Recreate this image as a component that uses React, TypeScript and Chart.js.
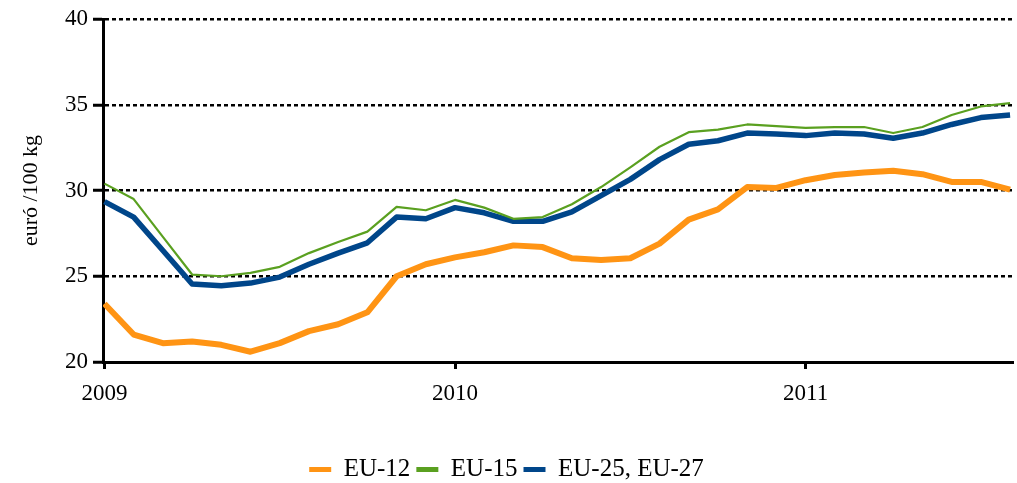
import React, { useEffect, useRef } from "react";
import { Chart, registerables } from "chart.js";

Chart.register(...registerables);

const months = [
  "2009-01", "2009-02", "2009-03", "2009-04", "2009-05", "2009-06", "2009-07", "2009-08",
  "2009-09", "2009-10", "2009-11", "2009-12", "2010-01", "2010-02", "2010-03", "2010-04",
  "2010-05", "2010-06", "2010-07", "2010-08", "2010-09", "2010-10", "2010-11", "2010-12",
  "2011-01", "2011-02", "2011-03", "2011-04", "2011-05", "2011-06", "2011-07", "2011-08",
];

const eu12 = [
  23.4, 21.6, 21.1, 21.2, 21.0, 20.6, 21.1, 21.8, 22.2, 22.9, 25.0, 25.7,
  26.1, 26.4, 26.8, 26.7, 26.05, 25.95, 26.05, 26.9, 28.3, 28.9, 30.2, 30.15,
  30.6, 30.9, 31.05, 31.15, 30.95, 30.5, 30.5, 30.05,
];

const eu15 = [
  30.4, 29.5, 27.3, 25.1, 25.0, 25.2, 25.55, 26.35, 27.0, 27.6, 29.05, 28.85,
  29.45, 29.0, 28.35, 28.45, 29.2, 30.2, 31.35, 32.55, 33.4, 33.55, 33.85, 33.75,
  33.65, 33.7, 33.7, 33.35, 33.7, 34.4, 34.9, 35.1,
];

const eu25 = [
  29.35, 28.45, 26.5, 24.55, 24.45, 24.6, 24.95, 25.7, 26.35, 26.95, 28.45, 28.35,
  29.0, 28.7, 28.2, 28.2, 28.75, 29.7, 30.65, 31.8, 32.7, 32.9, 33.35, 33.3,
  33.2, 33.35, 33.3, 33.05, 33.35, 33.85, 34.25, 34.4,
];

const seriesNames = ["EU-12", "EU-15", "EU-25, EU-27"];
const yearTickIndex = [0, 12, 24];
const yearTickLabels = ["2009", "2010", "2011"];
const yTitle = "euró /100 kg";

const FONT = "'Liberation Serif', 'Times New Roman', serif";

export default function App() {
  const ref = useRef<HTMLCanvasElement | null>(null);

  useEffect(() => {
    if (!ref.current) return;
    const toPts = (arr: number[]) => arr.map((v, i) => ({ x: i, y: v }));
    const chart = new Chart(ref.current, {
      type: "line",
      data: {
        labels: months,
        datasets: [
          {
            label: seriesNames[0],
            data: toPts(eu12),
            borderColor: "rgb(255,148,20)",
            backgroundColor: "rgb(255,148,20)",
            borderWidth: 6,
            pointRadius: 0,
            borderJoinStyle: "round",
            tension: 0,
          },
          {
            label: seriesNames[1],
            data: toPts(eu15),
            borderColor: "rgb(90,160,32)",
            backgroundColor: "rgb(90,160,32)",
            borderWidth: 2.2,
            pointRadius: 0,
            borderJoinStyle: "round",
            tension: 0,
          },
          {
            label: seriesNames[2],
            data: toPts(eu25),
            borderColor: "rgb(0,70,138)",
            backgroundColor: "rgb(0,70,138)",
            borderWidth: 5.5,
            pointRadius: 0,
            borderJoinStyle: "round",
            tension: 0,
          },
        ],
      },
      options: {
        animation: false,
        responsive: false,
        layout: { padding: { top: 19, right: 4, left: 0, bottom: -9 } },
        plugins: {
          tooltip: { enabled: false },
          legend: {
            position: "bottom",
            labels: {
              color: "#000",
              font: { family: FONT, size: 25 },
              boxWidth: 22,
              boxHeight: 5,
              padding: 6,
              generateLabels: (c: any) =>
                c.data.datasets.map((ds: any, i: number) => ({
                  text: ds.label,
                  fillStyle: ds.borderColor,
                  strokeStyle: ds.borderColor,
                  lineWidth: 0,
                  hidden: false,
                  datasetIndex: i,
                  fontColor: "#000",
                })),
            },
          },
        },
        scales: {
          x: {
            type: "linear",
            min: -0.05,
            max: 31.1,
            afterBuildTicks: (s: any) => {
              s.ticks = yearTickIndex.map((v) => ({ value: v }));
            },
            afterFit: (s: any) => {
              s.height = 89;
            },
            ticks: {
              autoSkip: false,
              maxRotation: 0,
              color: "#000",
              font: { family: FONT, size: 23 },
              padding: 11,
              callback: (v: any) => {
                const k = yearTickIndex.indexOf(Number(v));
                return k >= 0 ? yearTickLabels[k] : "";
              },
            },
            grid: {
              drawOnChartArea: false,
              tickLength: 7,
              tickColor: "#000",
              tickWidth: 3,
              color: "#000",
            },
            border: { display: true, color: "#000", width: 3 },
          },
          y: {
            min: 20,
            max: 40,
            afterFit: (s: any) => {
              s.width = 103;
            },
            ticks: {
              stepSize: 5,
              color: "#000",
              font: { family: FONT, size: 23 },
              padding: 5,
            },
            grid: {
              color: (ctx: any) => (ctx.tick && ctx.tick.value === 20 ? "rgba(0,0,0,0)" : "#000"),
              lineWidth: 2.5,
              tickLength: 10,
              tickColor: "#000",
              tickWidth: 3,
            },
            border: { display: true, color: "#000", width: 3, dash: [4, 3] },
            title: {
              display: true,
              text: yTitle,
              color: "#000",
              font: { family: FONT, size: 22 },
              padding: { top: 18, bottom: 0 },
            },
          },
        },
      },
    });
    return () => chart.destroy();
  }, []);

  return (
    <div style={{ position: "absolute", left: 0, top: 0, width: 1017, height: 483, background: "#fff" }}>
      <canvas ref={ref} width={1017} height={483} style={{ display: "block" }} />
    </div>
  );
}
